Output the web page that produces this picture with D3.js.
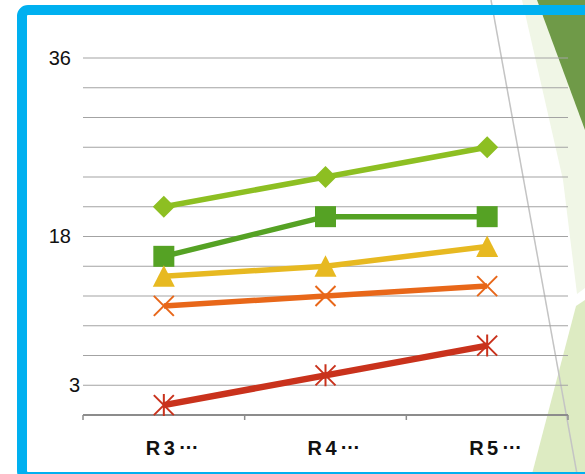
<!DOCTYPE html>
<html>
<head>
<meta charset="utf-8">
<script src="https://cdn.jsdelivr.net/npm/d3@7/dist/d3.min.js"></script>
<style>
  html, body { margin: 0; padding: 0; background: #fff; overflow: hidden; }
  svg { display: block; }
</style>
</head>
<body>
<svg id="chart" width="585" height="474"></svg>
<script>
// ---- data ----
const categories = ["R3…", "R4…", "R5…"];
const yTickLabels = [36, 18, 3];
const gridStep = 3;
const diamondValues = [21, 24, 27];
const squareValues = [16, 20, 20];
const triangleValues = [14, 15, 17];
const crossValues = [11, 12, 13];
const starValues = [1, 4, 7];

const series = [
  { values: diamondValues, color: "#8DBF22", marker: "diamond", width: 5.5 },
  { values: squareValues, color: "#55A224", marker: "square", width: 5.5 },
  { values: triangleValues, color: "#E7B921", marker: "triangle", width: 5.5 },
  { values: crossValues, color: "#E86719", marker: "cross", width: 5.5 },
  { values: starValues, color: "#C9321C", marker: "star", width: 6.5 }
];

const svg = d3.select("#chart");

// ---- background decoration ----
const deco = svg.append("g");
deco.append("polygon").attr("points", "522,0 585,0 585,288 577,294 563,180").attr("fill", "#F0F6E6");
deco.append("polygon").attr("points", "585,300 585,474 532,474 576,306").attr("fill", "#DDEBC2");
deco.append("polygon").attr("points", "537,0 585,0 585,130").attr("fill", "#6F9A48");
deco.append("line").attr("x1", 491).attr("y1", 0).attr("x2", 577).attr("y2", 474)
  .attr("stroke", "#c4c4c4").attr("stroke-width", 1.5);

// ---- frame ----
svg.append("rect")
  .attr("x", 22).attr("y", 10).attr("width", 700).attr("height", 467).attr("rx", 6)
  .attr("fill", "none").attr("stroke", "#00B0F0").attr("stroke-width", 10);

// ---- scales ----
const x = d3.scaleBand().domain(categories).range([83, 568]);
const y = d3.scaleLinear().domain([0, 36]).range([415, 58]);
const cx = c => x(c) + x.bandwidth() / 2;

// gridlines
svg.append("g").selectAll("line").data(d3.range(gridStep, 36 + 0.01, gridStep)).join("line")
  .attr("x1", 83).attr("x2", 568)
  .attr("y1", d => y(d)).attr("y2", d => y(d))
  .attr("stroke", "#a3a3a3").attr("stroke-width", 1.2);

// y labels
svg.append("g").selectAll("text").data(yTickLabels).join("text")
  .attr("x", d => d === 3 ? 80 : 71)
  .attr("y", d => y(d))
  .attr("dy", "0.33em")
  .attr("text-anchor", "end")
  .attr("font-family", "'Liberation Sans', Arial, sans-serif")
  .attr("font-size", 20)
  .attr("fill", "#111")
  .text(d => d);

// x axis baseline & ticks
const xAxis = svg.append("g");
xAxis.append("line").attr("x1", 83).attr("x2", 568).attr("y1", y(0)).attr("y2", y(0))
  .attr("stroke", "#8c8c8c").attr("stroke-width", 2);
const bounds = categories.map(c => x(c)).concat([x(categories[categories.length - 1]) + x.bandwidth()]);
xAxis.selectAll("line.tk").data(bounds).join("line").attr("class", "tk")
  .attr("x1", d => d).attr("x2", d => d).attr("y1", y(0)).attr("y2", y(0) + 5)
  .attr("stroke", "#8c8c8c").attr("stroke-width", 1.5);
const xl = xAxis.selectAll("text").data(categories).join("text")
  .attr("x", d => cx(d) - 18)
  .attr("y", 455)
  .attr("font-family", "'Liberation Sans', Arial, sans-serif")
  .attr("font-weight", "bold")
  .attr("font-size", 20)
  .attr("letter-spacing", "3.5px")
  .attr("fill", "#111");
xl.append("tspan").text(d => d.replace("…", ""));
xl.append("tspan").attr("dy", -6).attr("letter-spacing", "0px")
  .text(d => d.includes("…") ? "…" : "");

// ---- series ----
const line = d3.line().x((d, i) => cx(categories[i])).y(d => y(d));

function drawMarker(g, type, color) {
  if (type === "diamond") {
    g.append("path").attr("d", "M0,-11 L11,0 L0,11 L-11,0 Z").attr("fill", color);
  } else if (type === "square") {
    g.append("rect").attr("x", -10.5).attr("y", -10.5).attr("width", 21).attr("height", 21).attr("fill", color);
  } else if (type === "triangle") {
    g.append("path").attr("d", "M0,-11 L11,10.5 L-11,10.5 Z").attr("fill", color);
  } else if (type === "cross") {
    g.append("path").attr("d", "M-10,-10 L10,10 M-10,10 L10,-10")
      .attr("stroke", color).attr("stroke-width", 2).attr("fill", "none");
  } else if (type === "star") {
    g.append("path").attr("d", "M-10,-10 L10,10 M-10,10 L10,-10 M0,-11 L0,11")
      .attr("stroke", color).attr("stroke-width", 2).attr("fill", "none");
  }
}

series.forEach(s => {
  const g = svg.append("g");
  g.append("path").datum(s.values).attr("d", line)
    .attr("fill", "none").attr("stroke", s.color).attr("stroke-width", s.width)
    .attr("stroke-linejoin", "round");
  s.values.forEach((v, i) => {
    const m = g.append("g").attr("transform", `translate(${cx(categories[i])},${y(v)})`);
    drawMarker(m, s.marker, s.color);
  });
});
</script>
</body>
</html>
